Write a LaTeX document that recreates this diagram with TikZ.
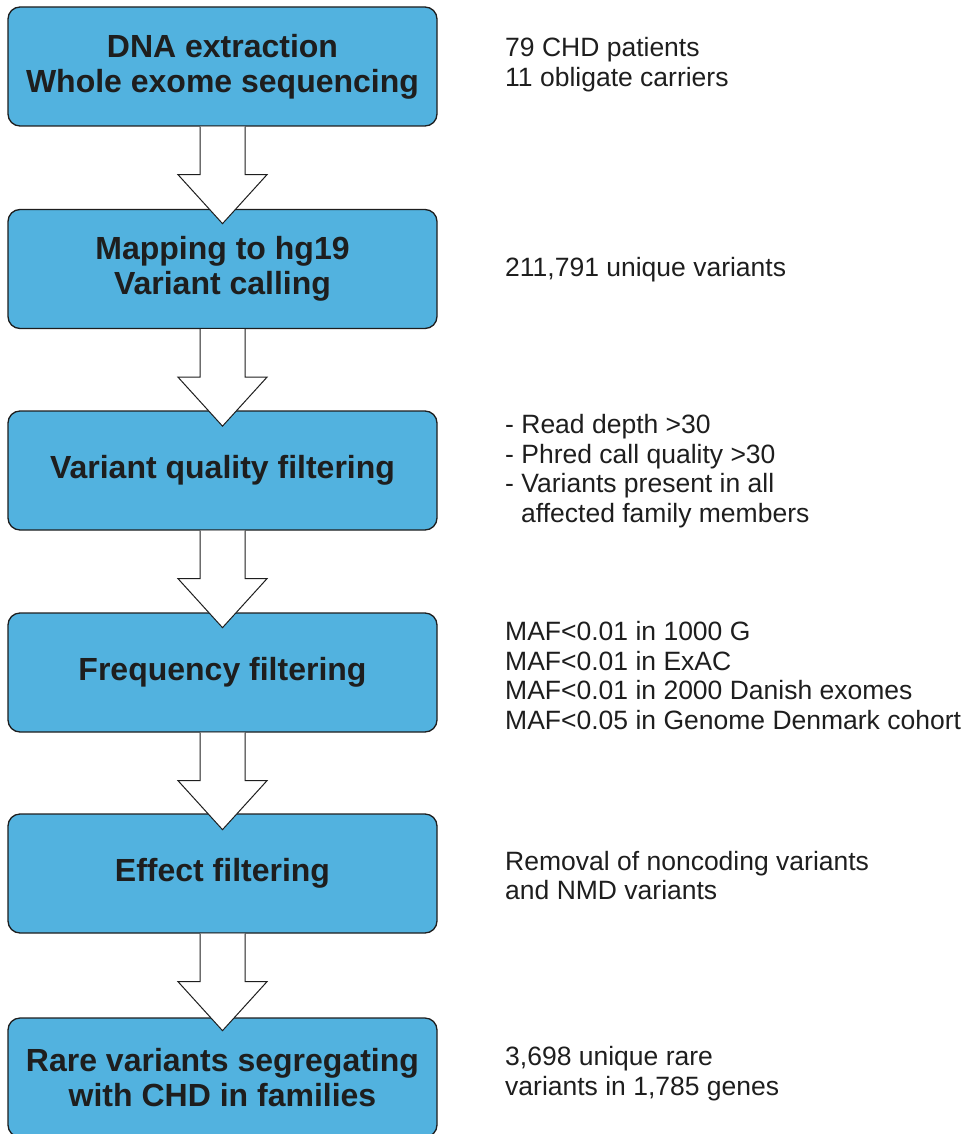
\documentclass[tikz,border=0pt]{standalone}
\usepackage{fontspec}
\setmainfont{Liberation Sans}
\usetikzlibrary{calc}
\definecolor{boxblue}{HTML}{52B2DF}
\definecolor{ink}{HTML}{1E1E1E}
\newcommand\stagearrow[1]{%
  \fill[white] ($(#1.south)+(-22.5,0)$) -- ($(#1.south)+(-22.5,48)$) -- ($(#1.south)+(-44.5,48)$) -- ($(#1.south)+(0,97)$) -- ($(#1.south)+(44.5,48)$) -- ($(#1.south)+(22.5,48)$) -- ($(#1.south)+(22.5,0)$) -- cycle;
  \draw[blockarrow] ($(#1.south)+(-22.5,0)$) -- ($(#1.south)+(-22.5,48)$) -- ($(#1.south)+(-44.5,48)$) -- ($(#1.south)+(0,97)$) -- ($(#1.south)+(44.5,48)$) -- ($(#1.south)+(22.5,48)$) -- ($(#1.south)+(22.5,0)$);}
\begin{document}
\begin{tikzpicture}[x=1pt,y=-1pt,
  stage/.style={draw=ink, line width=1.3pt, fill=boxblue, rounded corners=12pt, minimum width=429pt, minimum height=119pt, inner sep=0pt, align=center, font=\fontsize{32}{35}\selectfont\bfseries, text=ink},
  note/.style={anchor=west, inner sep=0pt, align=left, font=\fontsize{26.5}{29.5}\selectfont, text=ink},
  blockarrow/.style={draw=ink, line width=1pt, line join=miter}]
\useasboundingbox (0,0) rectangle (969,1134);
\node[stage] (s1) at (222.5,66.5) {DNA extraction\\Whole exome sequencing};
\node[stage] (s2) at (222.5,269) {Mapping to hg19\\Variant calling};
\node[stage] (s3) at (222.5,470.5) {Variant quality filtering};
\node[stage] (s4) at (222.5,672.5) {Frequency filtering};
\node[stage] (s5) at (222.5,873.5) {Effect filtering};
\node[stage] (s6) at (222.5,1077.5) {Rare variants segregating\\with CHD in families};
\stagearrow{s1}
\stagearrow{s2}
\stagearrow{s3}
\stagearrow{s4}
\stagearrow{s5}
\node[note] (n1) at (505,64.5) {79 CHD patients\\11 obligate carriers};
\node[note] (n2) at (505,270) {211,791 unique variants};
\node[note] (n3) at (505,471) {- Read depth >30\\- Phred call quality >30\\- Variants present in all\\\hspace*{16pt}affected family members};
\node[note] (n4) at (505,675.5) {MAF<0.01 in 1000 G\\MAF<0.01 in ExAC\\MAF<0.01 in 2000 Danish exomes\\MAF<0.05 in Genome Denmark cohort};
\node[note] (n5) at (505,875.5) {Removal of noncoding variants\\and NMD variants};
\node[note] (n6) at (505,1073.5) {3,698 unique rare\\variants in 1,785 genes};
\end{tikzpicture}
\end{document}
